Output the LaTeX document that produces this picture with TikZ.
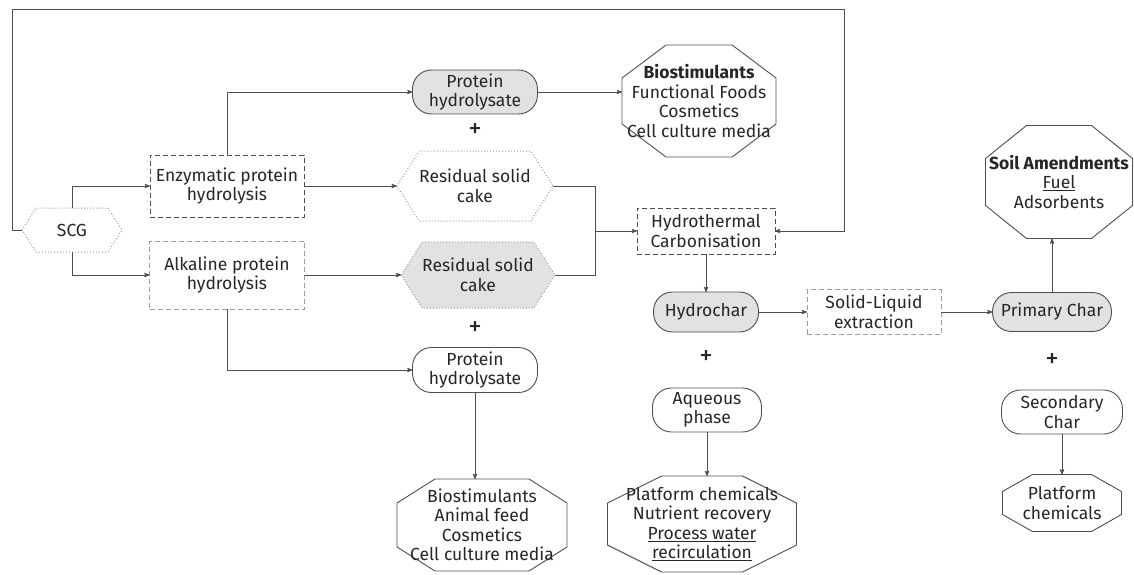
\documentclass[tikz,border=0pt]{standalone}
\usepackage{fontspec}
\setmainfont{Fira Sans}
\usepackage{tikz}
\usetikzlibrary{arrows,calc,shapes.misc,shapes.symbols}

\definecolor{ln}{HTML}{4E4E4E}
\definecolor{lt}{HTML}{9C9C9C}
\definecolor{fl}{HTML}{E2E2E2}

\begin{document}
\begin{tikzpicture}[x=1pt, y=-1pt, >=stealth',
		every node/.style={align=center, inner sep=0pt, outer sep=0pt,
			font=\fontsize{17.5}{19.5}\selectfont, text=black!85},
		plus/.style={font=\fontsize{27}{27}\selectfont},
		post/.style={->, draw=ln, line width=0.9pt},
		link/.style={draw=ln, line width=0.9pt},
		proc/.style={draw=ln, line width=1pt, dash pattern=on 5pt off 3pt},
		pale/.style={proc, draw=lt},
		hexa/.style={signal, signal to=east and west, signal pointer angle=115,
			draw=lt, line width=1pt, dotted},
		pill/.style={draw=ln, line width=0.9pt, rounded corners=19pt},
		grey/.style={fill=fl},
		octo/.style 2 args={append after command={\pgfextra{
			\draw[ln, line width=0.9pt]
				($(\tikzlastnode.north west)+(#1,0pt)$) -- ($(\tikzlastnode.north east)+(-#1,0pt)$)
				-- ($(\tikzlastnode.north east)+(0pt,-#2)$) -- ($(\tikzlastnode.south east)+(0pt,#2)$)
				-- ($(\tikzlastnode.south east)+(-#1,0pt)$) -- ($(\tikzlastnode.south west)+(#1,0pt)$)
				-- ($(\tikzlastnode.south west)+(0pt,#2)$) -- ($(\tikzlastnode.north west)+(0pt,-#2)$)
				-- cycle;}}}]

	\useasboundingbox (0,0) rectangle (1134,575);

	% feedstock and the two hydrolysis routes
	\node [hexa] (SCG) at (72,230) [minimum width=100pt, minimum height=44pt] {SCG};
	\node [proc] (EPH) at (227,186) [minimum width=154pt, minimum height=62pt] {Enzymatic protein\\hydrolysis};
	\node [pale] (APH) at (227,275) [minimum width=155pt, minimum height=68pt] {Alkaline protein\\hydrolysis};

	% enzymatic products
	\node [pill, grey] (PH1) at (475,92) [minimum width=125pt, minimum height=44pt] {Protein\\hydrolysate};
	\node [octo={44pt}{33pt}] (BIO1) at (699,101) [minimum width=154pt, minimum height=112pt]
		{\textbf{Biostimulants}\\Functional Foods\\Cosmetics\\Cell culture media};
	\node [plus] (P1) at (475,130) {+};
	\node [hexa] (RSC1) at (475,186) [minimum width=154pt, minimum height=70pt] {Residual solid\\cake};

	% alkaline products
	\node [hexa, grey] (RSC2) at (478,275) [minimum width=153pt, minimum height=66pt] {Residual solid\\cake};
	\node [plus] (P2) at (475,328) {+};
	\node [pill] (PH2) at (475,370) [minimum width=125pt, minimum height=45pt] {Protein\\hydrolysate};
	\node [octo={38pt}{24pt}] (BIO2) at (482,525) [minimum width=170pt, minimum height=92pt]
		{Biostimulants\\Animal feed\\Cosmetics\\Cell culture media};

	% carbonisation
	\node [proc] (HTC) at (706,231) [minimum width=138pt, minimum height=46pt] {Hydrothermal\\Carbonisation};
	\node [pill, grey] (HC) at (706,312) [minimum width=105pt, minimum height=40pt] {Hydrochar};
	\node [plus] (P3) at (706,357) {+};
	\node [pill] (AQ) at (707,410) [minimum width=109pt, minimum height=44pt] {Aqueous\\phase};
	\node [octo={54pt}{27pt}] (BIO3) at (702,524) [minimum width=189pt, minimum height=96pt]
		{Platform chemicals\\Nutrient recovery\\\underline{Process water}\\\underline{recirculation}};

	% extraction
	\node [pale] (SLE) at (874,312) [minimum width=134pt, minimum height=45pt] {Solid-Liquid\\extraction};
	\node [pill, grey] (PC) at (1052,312) [minimum width=119pt, minimum height=39pt] {Primary Char};
	\node [octo={41pt}{33pt}] (SA) at (1059,182) [minimum width=147pt, minimum height=113pt]
		{\textbf{Soil Amendments}\\\underline{Fuel}\\Adsorbents};
	\node [plus] (P4) at (1052,360) {+};
	\node [pill] (SC) at (1062,412) [minimum width=121pt, minimum height=44pt] {Secondary\\Char};
	\node [octo={30pt}{17pt}] (PL) at (1062,503) [minimum width=119pt, minimum height=57pt] {Platform\\chemicals};

	% connectors
	\draw[post] (SCG.north) |- (EPH.west);
	\draw[post] (SCG.south) |- (APH.west);
	\draw[post] (EPH.north) |- (PH1.west);
	\draw[post] (PH1.east) -- (PH1.east -| BIO1.west);
	\draw[post] (EPH.east) -- (RSC1.west);
	\draw[post] (APH.east) -- (RSC2.west);

	\coordinate (J) at (595,231);
	\draw[post] (RSC1.east) -| (J) -- (HTC.west);
	\draw[link] (RSC2.east) -| (J);

	\coordinate (LT) at (12,9);
	\coordinate (RT) at (844,9);
	\draw[post] (SCG.west) -| (LT) -- (RT) |- (HTC.east);

	\draw[post] (HTC.south) -- (HC.north);
	\draw[post] (HC.east) -- (SLE.west);
	\draw[post] (SLE.east) -- (PC.west);
	\draw[post] (PC.north) -- (PC.north |- SA.south);
	\draw[post] (APH.south) |- (PH2.west);
	\draw[post] (PH2.south) -- (PH2.south |- BIO2.north);
	\draw[post] (AQ.south) -- (AQ.south |- BIO3.north);
	\draw[post] (SC.south) -- (PL.north);

\end{tikzpicture}
\end{document}
